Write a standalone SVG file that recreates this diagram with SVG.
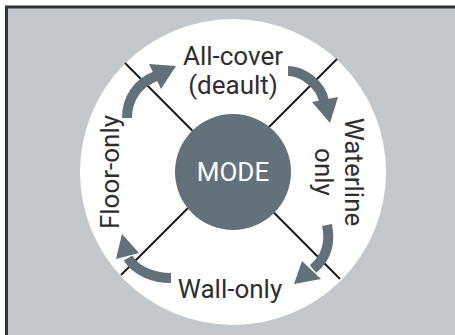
<svg xmlns="http://www.w3.org/2000/svg" width="455" height="335" viewBox="0 0 455 335">
  <defs>
    <style>
      .lbl { font-family: Roboto, "Liberation Sans", sans-serif; font-size: 26px; fill: #2e2e2e; text-anchor: middle; }
      .mode { font-family: Roboto, "Liberation Sans", sans-serif; font-size: 26px; fill: #ffffff; text-anchor: middle; }
      .div { stroke: #1a1a1a; stroke-width: 2; fill: none; }
      .shaft { stroke: #617079; stroke-width: 10; fill: none; }
      .head { fill: #617079; }
    </style>
  </defs>
  <rect x="0" y="0" width="455" height="335" fill="#ffffff"/>
  <rect x="6.5" y="7" width="470" height="350" fill="#c4c8cb" stroke="#333333" stroke-width="3"/>
  <circle cx="233" cy="172" r="153" fill="#ffffff"/>

  <g id="connectors">
    <line class="div" x1="125" y1="63" x2="340" y2="279"/>
    <line class="div" x1="337" y1="59" x2="121" y2="275"/>
    <path class="shaft" d="M127,118 C127,98 138,83 156,76"/>
    <polygon class="head" points="176,66 149,64 161,89"/>
    <path class="shaft" d="M288,71 C303,71 321,85 324,101"/>
    <polygon class="head" points="330,123 312,102 338,97"/>
    <path class="shaft" d="M327,225 C331,244 325,259 313,269"/>
    <polygon class="head" points="294,284 302,261 321,279"/>
    <path class="shaft" d="M171,278 C153,278 136,271 128,258"/>
    <polygon class="head" points="122,234 116,259 139,253"/>
  </g>

  <g id="mode">
    <circle cx="233" cy="172" r="58" fill="#63717b"/>
    <text class="mode" x="233" y="181">MODE</text>
  </g>
  <g id="all-cover">
    <text class="lbl" x="233" y="65">All-cover</text>
    <text class="lbl" x="233" y="94">(deault)</text>
  </g>
  <g id="waterline">
    <text class="lbl" transform="translate(345,172) rotate(90)">Waterline</text>
    <text class="lbl" transform="translate(315,172) rotate(90)">only</text>
  </g>
  <g id="wall-only">
    <text class="lbl" x="230" y="298">Wall-only</text>
  </g>
  <g id="floor-only">
    <text class="lbl" transform="translate(119,172) rotate(-90)">Floor-only</text>
  </g>
</svg>
